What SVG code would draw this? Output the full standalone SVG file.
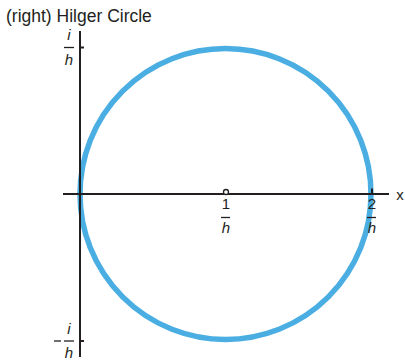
<svg xmlns="http://www.w3.org/2000/svg" width="405" height="363" viewBox="0 0 405 363">
<style>
text{font-family:"Liberation Sans",Arial,sans-serif;fill:#231f20}
.t{font-size:17.5px}
.f{font-size:15px;font-style:italic;text-anchor:middle}
.n{font-size:15px;text-anchor:middle}
.ax{stroke:#231f20;stroke-width:2;fill:none}
.fl{stroke:#231f20;stroke-width:1.3}
</style>
<rect width="405" height="363" fill="#fff"/>
<text class="t" x="6" y="22">(right) Hilger Circle</text>
<g id="circle">
<circle cx="225.5" cy="194" r="145.5" fill="none" stroke="#4aaee3" stroke-width="5.5"/>
</g>
<g id="axes">
<line class="ax" x1="80" y1="31" x2="80" y2="357"/>
<line class="ax" x1="63" y1="194" x2="389" y2="194"/>
<line class="ax" x1="80" y1="47.5" x2="84" y2="47.5"/>
<line class="ax" x1="80" y1="341" x2="84" y2="341"/>
<line class="ax" x1="372" y1="188.5" x2="372" y2="194"/>
<circle cx="226" cy="192" r="2.5" fill="#fff" stroke="#231f20" stroke-width="1.3"/>
</g>
<g id="label-top">
<text class="f" x="69" y="40">i</text>
<line class="fl" x1="64" y1="47.5" x2="74" y2="47.5"/>
<text class="f" x="69" y="65">h</text>
</g>
<g id="label-bottom">
<line class="fl" x1="54" y1="341" x2="61" y2="341"/>
<text class="f" x="69" y="334">i</text>
<line class="fl" x1="64" y1="341" x2="74" y2="341"/>
<text class="f" x="69" y="358">h</text>
</g>
<g id="label-one">
<text class="n" x="226" y="209">1</text>
<line class="fl" x1="221" y1="217.5" x2="230" y2="217.5"/>
<text class="f" x="226" y="233">h</text>
</g>
<g id="label-two">
<text class="n" x="372" y="209">2</text>
<line class="fl" x1="367" y1="217.5" x2="376" y2="217.5"/>
<text class="f" x="372" y="233">h</text>
</g>
<text class="n" x="400" y="200">x</text>
</svg>
